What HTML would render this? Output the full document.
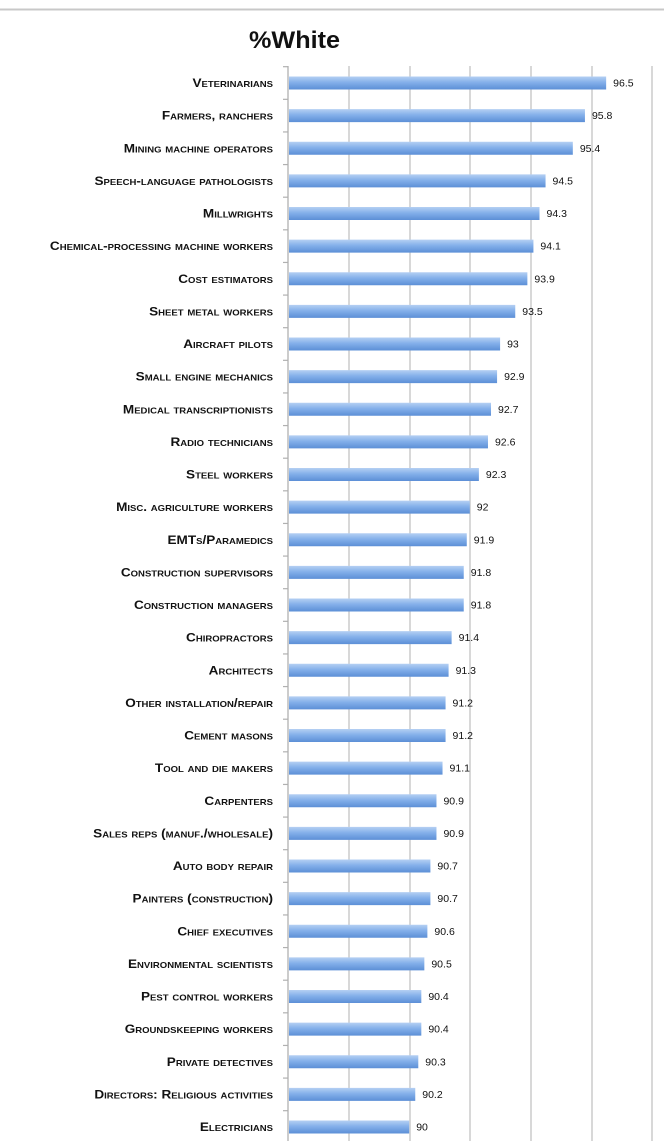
<!DOCTYPE html>
<html><head><meta charset="utf-8"><style>
html,body{margin:0;padding:0;background:#fff;width:664px;height:1141px;overflow:hidden}
svg{display:block}
.l{font-family:"Liberation Sans",sans-serif;font-weight:bold;font-size:12px;font-variant:small-caps;fill:#111;text-anchor:end}
.v{font-family:"Liberation Sans",sans-serif;font-size:10.5px;fill:#111}
</style></head><body>
<svg id="s" width="664" height="1141" xmlns="http://www.w3.org/2000/svg">
<defs><linearGradient id="g" x1="0" y1="0" x2="0" y2="1">
<stop offset="0" stop-color="#b5d0f3"/><stop offset="0.45" stop-color="#84b0ea"/><stop offset="1" stop-color="#5c8fd6"/></linearGradient></defs>
<rect x="0" y="8.5" width="664" height="2" fill="#c8c8c8"/>
<text x="249" y="48" font-family="Liberation Sans,sans-serif" font-weight="bold" font-size="24" fill="#111" textLength="91" lengthAdjust="spacingAndGlyphs">%White</text>
</svg>
<script>
var d=[["Veterinarians",96.5],["Farmers, ranchers",95.8],["Mining machine operators",95.4],["Speech-language pathologists",94.5],["Millwrights",94.3],["Chemical-processing machine workers",94.1],["Cost estimators",93.9],["Sheet metal workers",93.5],["Aircraft pilots",93],["Small engine mechanics",92.9],["Medical transcriptionists",92.7],["Radio technicians",92.6],["Steel workers",92.3],["Misc. agriculture workers",92],["EMTs/Paramedics",91.9],["Construction supervisors",91.8],["Construction managers",91.8],["Chiropractors",91.4],["Architects",91.3],["Other installation/repair",91.2],["Cement masons",91.2],["Tool and die makers",91.1],["Carpenters",90.9],["Sales reps (manuf./wholesale)",90.9],["Auto body repair",90.7],["Painters (construction)",90.7],["Chief executives",90.6],["Environmental scientists",90.5],["Pest control workers",90.4],["Groundskeeping workers",90.4],["Private detectives",90.3],["Directors: Religious activities",90.2],["Electricians",90]];
var h='';
[349,410,470,531,592,652].forEach(function(x){h+='<line x1="'+x+'" y1="66" x2="'+x+'" y2="1141" stroke="#c4c4c4" stroke-width="1.3"/>';});
h+='<line x1="288" y1="66" x2="288" y2="1141" stroke="#b0b0b0" stroke-width="1.3"/>';
for(var i=0;i<=33;i++){var ty=66.7+i*32.625;h+='<line x1="283" y1="'+ty+'" x2="288" y2="'+ty+'" stroke="#b0b0b0" stroke-width="1.2"/>';}
d.forEach(function(r,i){var y=83+i*32.625;var xe=288+(r[1]-86)*30.3;
h+='<rect x="289" y="'+(y-6.5)+'" width="'+(xe-289)+'" height="13" fill="url(#g)"/>';
h+='<text class="v" x="'+(xe+7)+'" y="'+(y+3.5)+'">'+r[1]+'</text>';
h+='<text class="l" transform="translate(273,'+(y+4)+') scale(1.13,1)" x="0" y="0">'+r[0]+'</text>';});
document.getElementById('s').insertAdjacentHTML('beforeend',h);
</script>
</body></html>
